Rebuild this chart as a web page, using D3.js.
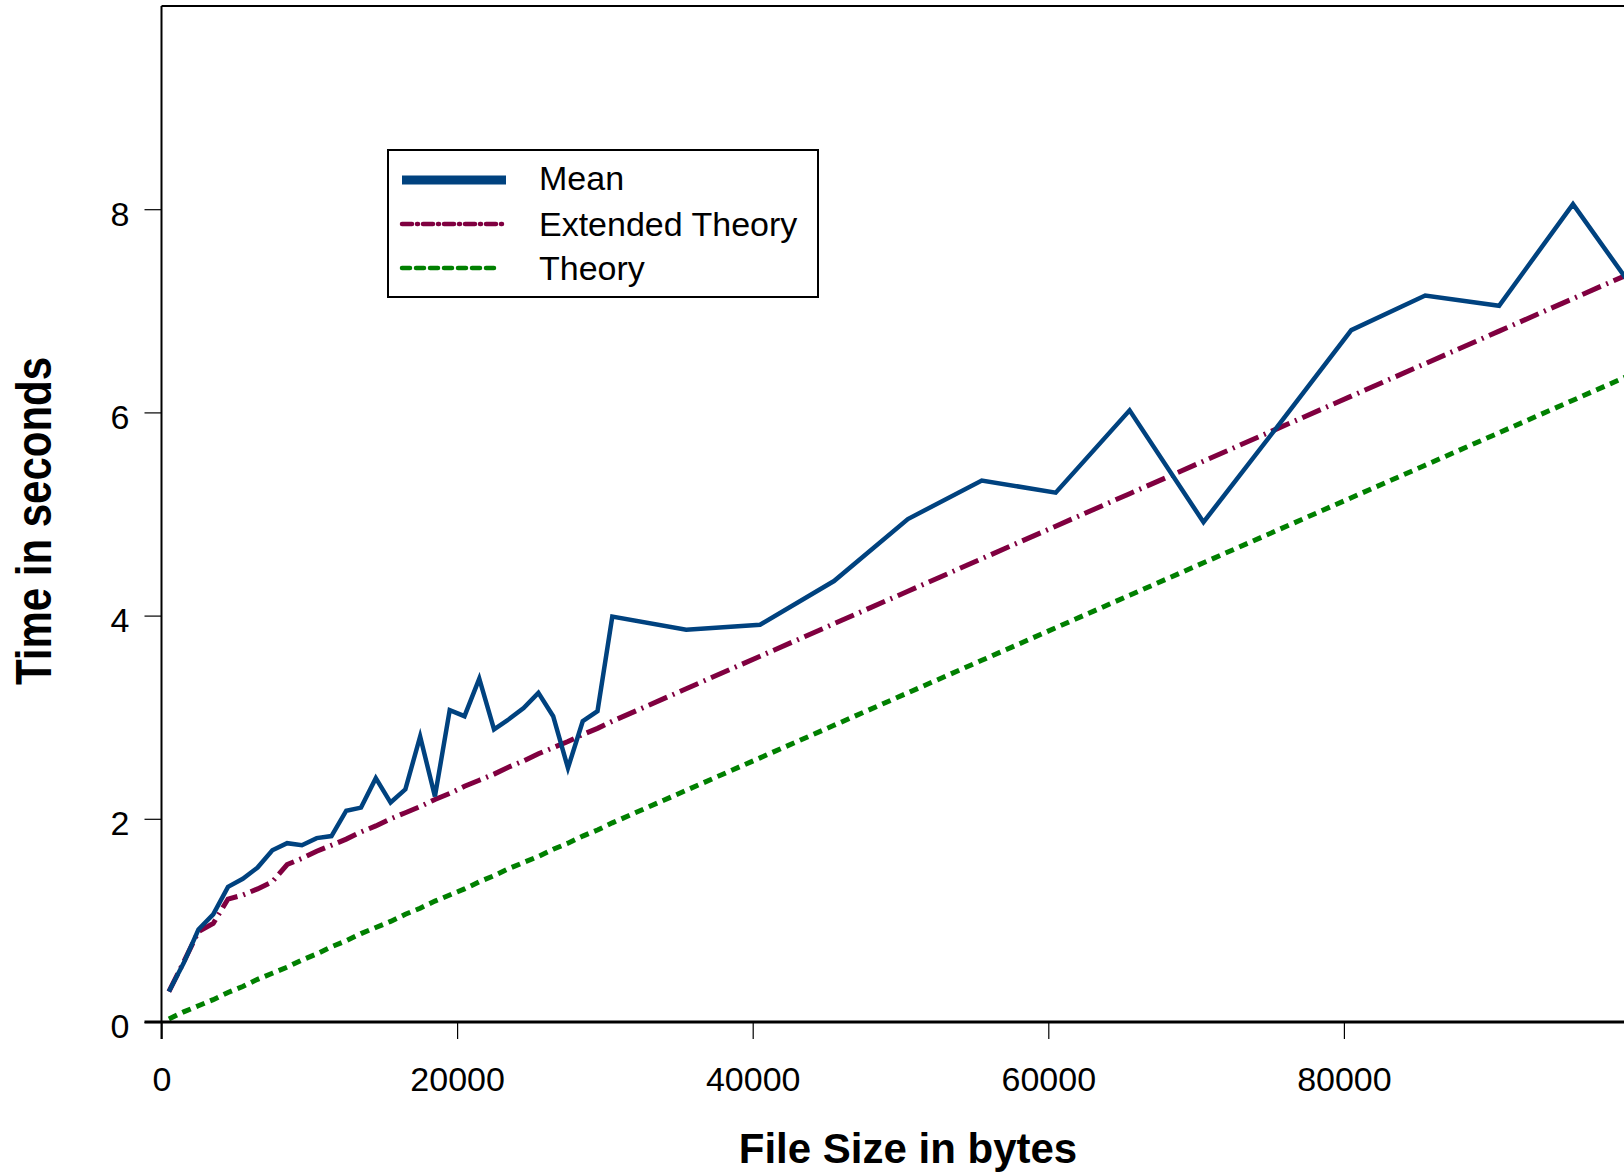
<!DOCTYPE html>
<html>
<head>
<meta charset="utf-8">
<script src="https://cdn.jsdelivr.net/npm/d3@7"></script>
<style>
  body { margin: 0; background: #fff; }
  svg { display: block; font-family: "Liberation Sans", Arial, sans-serif; }
</style>
</head>
<body>
<div id="chart"></div>
<script>
// file sizes (bytes) where the measurements were taken
const fileSizes = [500, 1500, 2500, 3500, 4500, 5500, 6500, 7500, 8500, 9500,
    10500, 11500, 12500, 13500, 14500, 15500, 16500, 17500, 18500, 19500,
    20500, 21500, 22500, 23500, 24500, 25500, 26500, 27500, 28500, 29500,
    30500, 35500, 40500, 45500, 50500, 55500, 60500, 65500, 70500, 75500,
    80500, 85500, 90500, 95500, 100500];

const meanTimes = [0.30, 0.58, 0.91, 1.06, 1.33, 1.41, 1.52, 1.69, 1.76, 1.74,
    1.81, 1.83, 2.08, 2.11, 2.40, 2.16, 2.29, 2.81, 2.22, 3.07,
    3.01, 3.38, 2.88, 2.98, 3.09, 3.24, 3.01, 2.50, 2.96, 3.06,
    3.99, 3.86, 3.91, 4.34, 4.95, 5.33, 5.21, 6.02, 4.92, 5.86,
    6.81, 7.15, 7.05, 8.05, 7.03];

const extendedTimes = [0.30, 0.59, 0.89, 0.97, 1.21, 1.25, 1.31, 1.38, 1.55, 1.61,
    1.68, 1.74, 1.80, 1.87, 1.93, 2.00, 2.06, 2.12, 2.19, 2.25,
    2.32, 2.38, 2.44, 2.51, 2.57, 2.64, 2.70, 2.76, 2.83, 2.89,
    2.96, 3.28, 3.60, 3.92, 4.24, 4.56, 4.88, 5.20, 5.52, 5.84,
    6.16, 6.48, 6.80, 7.12, 7.44];

const theoryTimes = [0.03, 0.10, 0.16, 0.22, 0.29, 0.35, 0.42, 0.48, 0.54, 0.61,
    0.67, 0.74, 0.80, 0.87, 0.93, 0.99, 1.06, 1.12, 1.19, 1.25,
    1.31, 1.38, 1.44, 1.51, 1.57, 1.63, 1.70, 1.76, 1.83, 1.89,
    1.96, 2.28, 2.60, 2.92, 3.24, 3.56, 3.88, 4.20, 4.52, 4.84,
    5.16, 5.48, 5.80, 6.12, 6.44];

const xTicks = [0, 20000, 40000, 60000, 80000];
const yTicks = [0, 2, 4, 6, 8];

const seriesNames = ["Mean", "Extended Theory", "Theory"];

const width = 1624, height = 1175;

// plot box is cut off on the right, like the original
const x = d3.scaleLinear().domain([0, 100000]).range([161.5, 1639.5]);
const y = d3.scaleLinear().domain([0, 10]).range([1022, 6]);

const svg = d3.select("#chart").append("svg")
    .attr("width", width)
    .attr("height", height);

const styles = [
    { color: "#00427f", width: 4.5, dash: null, legendWidth: 9, legendDash: null },
    { color: "#800040", width: 5, dash: "20,6,2,6", legendWidth: 4.5, legendDash: "10,5,1,5" },
    { color: "#008000", width: 5, dash: "9,6", legendWidth: 4.5, legendDash: "8,6" }
];
const seriesData = [meanTimes, extendedTimes, theoryTimes];

// frame: top border + left axis
svg.append("line")
    .attr("x1", x(0)).attr("x2", width)
    .attr("y1", y(10)).attr("y2", y(10))
    .attr("stroke", "#000").attr("stroke-width", 2);

const line = d3.line()
    .x((d, i) => x(fileSizes[i]))
    .y(d => y(d));

// series, drawn back to front
[2, 1, 0].forEach(k => {
    svg.append("path")
        .datum(seriesData[k])
        .attr("fill", "none")
        .attr("stroke", styles[k].color)
        .attr("stroke-width", styles[k].width)
        .attr("stroke-dasharray", styles[k].dash)
        .attr("stroke-linejoin", "miter")
        .attr("d", line);
});

// x axis
const xAxis = d3.axisBottom(x)
    .tickValues(xTicks)
    .tickFormat(d3.format("d"))
    .tickSize(17)
    .tickPadding(35);

const gx = svg.append("g")
    .attr("transform", `translate(0,${y(0)})`)
    .call(xAxis);
gx.select(".domain").remove();
gx.append("line")
    .attr("x1", x(0) - 17).attr("x2", width)
    .attr("stroke", "#000").attr("stroke-width", 3);
gx.selectAll(".tick line").attr("stroke", "#000").attr("stroke-width", 1.2);
gx.selectAll(".tick text")
    .attr("fill", "#000")
    .attr("font-size", 34)
    .attr("font-family", "Liberation Sans, Arial, sans-serif")
    .attr("dy", "0.5em");

// y axis
const yAxis = d3.axisLeft(y)
    .tickValues(yTicks)
    .tickSize(17)
    .tickPadding(15);

const gy = svg.append("g")
    .attr("transform", `translate(${x(0)},0)`)
    .call(yAxis);
gy.select(".domain").remove();
gy.append("line")
    .attr("y1", y(10)).attr("y2", y(0) + 17)
    .attr("stroke", "#000").attr("stroke-width", 2);
gy.selectAll(".tick line").attr("stroke", "#000").attr("stroke-width", 1.2);
gy.selectAll(".tick text")
    .attr("fill", "#000")
    .attr("font-size", 34)
    .attr("font-family", "Liberation Sans, Arial, sans-serif")
    .attr("dy", "0.47em");

// axis titles
svg.append("text")
    .attr("x", 908).attr("y", 1163)
    .attr("text-anchor", "middle")
    .attr("font-size", 42)
    .attr("font-weight", "bold")
    .text("File Size in bytes");

svg.append("text")
    .attr("transform", "translate(51,521) rotate(-90) scale(1,1.17)")
    .attr("text-anchor", "middle")
    .attr("font-size", 42)
    .attr("font-weight", "bold")
    .text("Time in seconds");

// legend
const legend = svg.append("g").attr("transform", "translate(388,150)");
legend.append("rect")
    .attr("width", 430).attr("height", 147)
    .attr("fill", "#fff")
    .attr("stroke", "#000").attr("stroke-width", 2);

seriesNames.forEach((name, i) => {
    const ly = 30 + i * 44;
    legend.append("line")
        .attr("x1", 14).attr("x2", i === 2 ? 112 : 118)
        .attr("y1", ly).attr("y2", ly)
        .attr("stroke", styles[i].color)
        .attr("stroke-width", styles[i].legendWidth)
        .attr("stroke-dasharray", styles[i].legendDash)
        .attr("stroke-linecap", i === 0 ? "butt" : "round");
    legend.append("text")
        .attr("x", 151).attr("y", ly + (i === 0 ? 10 : 12))
        .attr("font-size", 34)
        .text(name);
});
</script>
</body>
</html>
